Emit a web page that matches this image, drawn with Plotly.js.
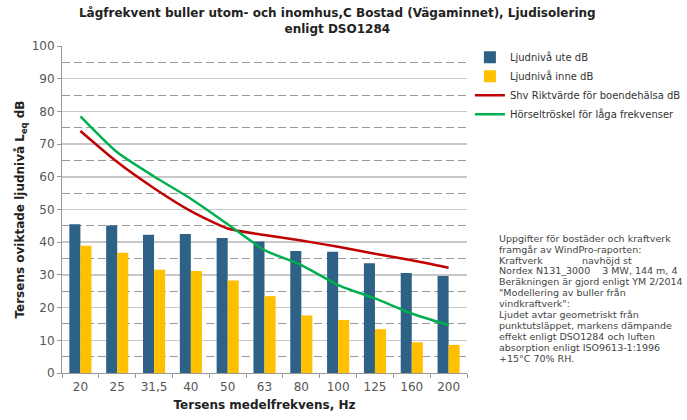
<!DOCTYPE html>
<html>
<head>
<meta charset="utf-8">
<script src="https://cdn.plot.ly/plotly-3.0.1.min.js"></script>
<style>html,body{margin:0;padding:0;background:#fff;}#chart{width:687px;height:420px;}</style>
</head>
<body>
<div id="chart"></div>
<script>
const categories = ["20","25","31,5","40","50","63","80","100","125","160","200"];
const ljudUte = [45.5,45.1,42.3,42.5,41.3,40.2,37.3,37.1,33.6,30.6,29.7];
const ljudInne = [38.9,36.8,31.6,31.2,28.3,23.5,17.6,16.2,13.4,9.4,8.6];
const shvRiktvarde = [74,64.5,56.5,49.5,44.2,42.2,40.5,38.6,36.5,34.5,32.2];
const horseltroskel = [78.5,67.5,60.1,53.3,45.5,37.6,33,26.9,22.8,18.2,14.6];
const seriesNames = ["Ljudnivå ute dB","Ljudnivå inne dB","Shv Riktvärde för boendehälsa dB","Hörseltröskel för låga frekvenser"];
const noteLines = [
 "Uppgifter för bostäder och kraftverk",
 "framgår av WindPro-raporten:",
 "Kraftverk             navhöjd st",
 "Nordex N131_3000    3 MW, 144 m, 4",
 "Beräkningen är gjord enligt YM 2/2014",
 "\"Modellering av buller från",
 "vindkraftverk\":",
 "Ljudet avtar geometriskt från",
 "punktutsläppet, markens dämpande",
 "effekt enligt DSO1284 och luften",
 "absorption enligt ISO9613-1:1996",
 "+15°C 70% RH."
];

const traces = [
 {type:"bar", x:categories, y:ljudUte, name:seriesNames[0], marker:{color:"#2D6185"}},
 {type:"bar", x:categories, y:ljudInne, name:seriesNames[1], marker:{color:"#FFC000"}},
 {type:"scatter", mode:"lines", x:categories, y:shvRiktvarde, name:seriesNames[2], line:{color:"#C00000", width:2.5, shape:"spline", smoothing:0.6}},
 {type:"scatter", mode:"lines", x:categories, y:horseltroskel, name:seriesNames[3], line:{color:"#00B050", width:2.5, shape:"spline", smoothing:0.6}}
];

const noteAnnotations = noteLines.map((line, i) => ({
 xref:"paper", yref:"paper", x:1.074, y:0.412, yshift:-i*10.9, xanchor:"left", yanchor:"middle",
 align:"left", showarrow:false, text:line, font:{size:9.5, color:"#444"}
}));

const layout = {
 width:687, height:420,
 margin:{l:62, r:220, t:46, b:47, autoexpand:false},
 paper_bgcolor:"#fff", plot_bgcolor:"#fff",
 font:{family:"DejaVu Sans, Verdana, sans-serif", color:"#555", size:12},
 title:{text:"<b>Lågfrekvent buller utom- och inomhus,C Bostad (Vägaminnet), Ljudisolering<br>enligt DSO1284</b>", font:{size:12, color:"#222", family:"DejaVu Sans, sans-serif"}, x:0.491, xanchor:"center", y:0.959, yanchor:"top"},
 barmode:"group", bargap:0.4, bargroupgap:0,
 showlegend:true,
 legend:{xref:"container", yref:"container", x:0.684, y:0.898, xanchor:"left", yanchor:"top", font:{size:10, color:"#333"}, bgcolor:"rgba(0,0,0,0)", tracegroupgap:0},
 xaxis:{type:"category", tickson:"boundaries", ticks:"outside", ticklen:4, tickcolor:"#999", showline:true, linecolor:"#999", showgrid:false,
   tickangle:0, ticklabelstandoff:3, tickfont:{size:12, color:"#555"},
   title:{text:"<b>Tersens medelfrekvens, Hz</b>", font:{size:12, color:"#222"}, standoff:7}},
 yaxis:{range:[0,100], dtick:10, ticks:"outside", ticklen:4, tickcolor:"#999", showline:true, linecolor:"#999",
   gridcolor:"#c8c8c8", gridwidth:1.5, zeroline:false, tickfont:{size:12, color:"#555"},
   minor:{dtick:5, showgrid:true, gridcolor:"#9a9a9a", griddash:"8px,4px", gridwidth:1},
   title:{text:"<b>Tersens oviktade ljudnivå L<sub>eq</sub> dB</b>", font:{size:12, color:"#222"}, standoff:4}},
 annotations:noteAnnotations
};

Plotly.newPlot("chart", traces, layout, {displayModeBar:false, staticPlot:true});
</script>
</body>
</html>
